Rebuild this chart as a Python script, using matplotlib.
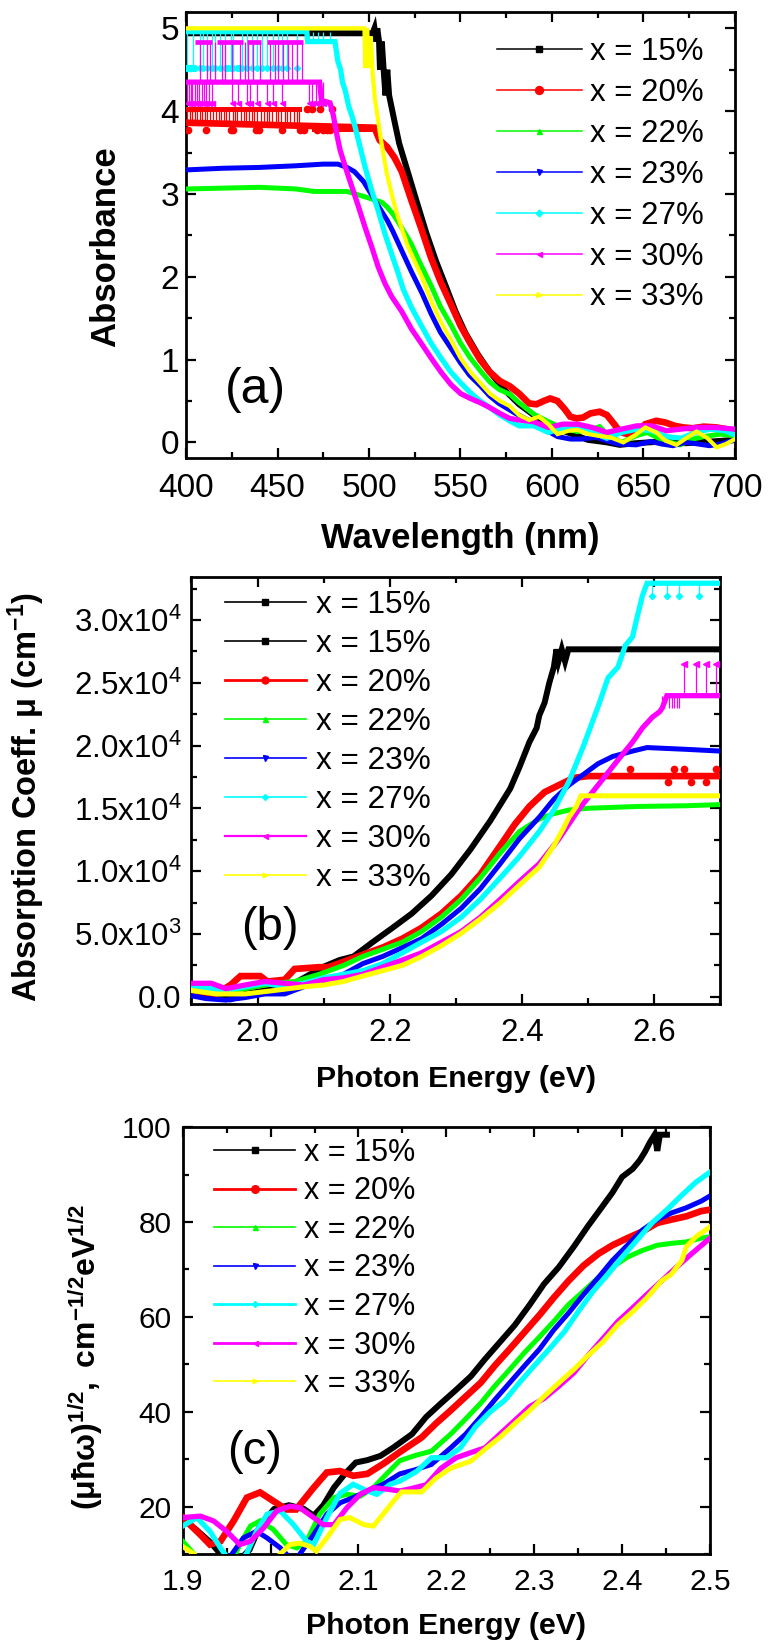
import matplotlib
matplotlib.use("Agg")
import matplotlib.pyplot as plt
from matplotlib.lines import Line2D
from matplotlib.ticker import MultipleLocator, FixedLocator, FixedFormatter

plt.rcParams.update({
    "font.family": ["Liberation Sans", "DejaVu Sans"],
    "mathtext.fontset": "custom",
    "mathtext.rm": "Liberation Sans",
    "mathtext.it": "Liberation Sans:italic",
    "mathtext.bf": "Liberation Sans:bold",
})

labels = ["x = 15%", "x = 20%", "x = 22%", "x = 23%", "x = 27%", "x = 30%", "x = 33%"]
colors = ["black", "red", "#00ff00", "blue", "cyan", "magenta", "yellow"]
markers = ["s", "o", "^", "v", "D", "<", ">"]

# ---------------- (a) absorbance vs wavelength ----------------
wl_15 = [400, 502, 503, 504, 504.5, 505.5, 506, 507, 508, 509, 510, 511, 512.5, 514, 516.5,
         520.6, 525.9, 531.3, 536.6, 542, 547.3, 552.7, 559.4, 566, 574, 582, 590, 598, 606,
         619.7, 630, 637, 646, 660, 673, 687, 700]
ab_15 = [4.94, 4.94, 5.0, 4.84, 5.0, 4.84, 4.5, 4.84, 4.5, 4.19, 4.5, 4.19, 4.03, 3.87, 3.61,
         3.31, 2.92, 2.53, 2.19, 1.885, 1.58, 1.32, 1.066, 0.85, 0.634, 0.46, 0.33, 0.22, 0.14,
         0.03, 0.0, -0.03, -0.01, 0.01, -0.01, 0.01, 0.03]

wl_20 = [400, 503, 505.8, 509.8, 513.9, 517.9, 523.2, 528.6, 533.9, 539.3, 544.7, 550, 555.4,
         560.7, 566, 571.5, 576.8, 582, 587.5, 591.5, 595.5, 599, 603, 607, 610, 613.5, 617, 621,
         626, 630, 634, 637, 641, 646, 651, 657, 662, 667, 672, 677, 683, 690, 695, 700]
ab_20 = [3.86, 3.8, 3.65, 3.57, 3.44, 3.27, 2.92, 2.58, 2.23, 1.93, 1.67, 1.41, 1.195,
         1.0, 0.85, 0.74, 0.68, 0.59, 0.47, 0.46, 0.5, 0.53, 0.5, 0.4, 0.31, 0.29, 0.3, 0.35,
         0.37, 0.33, 0.22, 0.13, 0.1, 0.12, 0.22, 0.26, 0.24, 0.2, 0.18, 0.17, 0.19, 0.18, 0.16, 0.12]

wl_22 = [400, 420, 440, 460, 470, 488, 494, 500, 504, 507, 510, 513, 516, 519, 523, 528, 534,
         539, 545, 550, 555, 561, 566, 571, 577, 582, 590, 598, 606, 614, 622, 626, 630, 638,
         646, 652, 660, 670, 677, 683, 692, 700]
ab_22 = [3.06, 3.07, 3.08, 3.06, 3.03, 3.03, 2.99, 2.95, 2.92, 2.9, 2.84, 2.76, 2.66, 2.55,
         2.4, 2.16, 1.89, 1.64, 1.41, 1.2, 1.03, 0.86, 0.73, 0.64, 0.58, 0.48, 0.34, 0.25, 0.17,
         0.13, 0.16, 0.19, 0.1, 0.0, 0.08, 0.12, 0.03, -0.03, 0.04, 0.07, 0.1, 0.08]

wl_23 = [400, 420, 440, 460, 475, 483, 488, 492, 497, 502, 506, 510, 513, 518, 523, 529, 534,
         539, 545, 550, 555, 561, 566, 571, 580, 587, 595, 603, 610, 616, 624, 630, 636, 646,
         654, 660, 666, 673, 680, 686, 692, 700]
ab_23 = [3.29, 3.31, 3.32, 3.34, 3.36, 3.36, 3.32, 3.27, 3.15, 2.97, 2.82, 2.68, 2.55, 2.31,
         2.07, 1.8, 1.55, 1.33, 1.13, 0.96, 0.81, 0.68, 0.56, 0.47, 0.35, 0.27, 0.17, 0.07, 0.04,
         0.04, 0.06, 0.02, -0.02, -0.03, 0.01, -0.02, -0.04, 0.0, -0.02, -0.04, -0.02, 0.03]

wl_27 = [400, 466, 466.5, 481.4, 483, 484.5, 485.5, 487, 489, 490.6, 492.4, 494.2, 497.8,
         501.5, 505, 508.7, 512.3, 516, 518.7, 523.2, 528.6, 533.9, 539.3, 544.7, 550, 555.4,
         560.7, 566, 571.5, 576.8, 582, 590, 598, 606, 614, 622, 630, 638, 646.5, 654.5, 662.5,
         670.6, 678.6, 686.6, 694.6, 700]
ab_27 = [4.96, 4.96, 4.84, 4.84, 4.6, 4.5, 4.35, 4.25, 4.05, 3.95, 3.81, 3.65, 3.33,
         3.04, 2.8, 2.52, 2.28, 2.04, 1.85, 1.63, 1.41, 1.2, 1.02, 0.85, 0.72, 0.6,
         0.5, 0.42, 0.33, 0.26, 0.2, 0.2, 0.12, 0.17, 0.2, 0.12, 0.05, 0.12, 0.16, 0.14, 0.07,
         0.05, 0.12, 0.16, 0.14, 0.09]

wl_30 = [400, 473, 474, 478.7, 480.5, 482.3, 484.2, 487, 490.6, 494.2, 497.8, 501.5, 505,
         508.7, 512.4, 517.9, 523.2, 528.6, 533.9, 539.3, 544.7, 550, 555.4, 560.7, 566, 571.5,
         576.8, 582, 590, 598, 606, 614, 622, 630, 638, 646.5, 654.5, 662.5, 670.6, 678.6, 689, 700]
ab_30 = [4.35, 4.35, 4.13, 4.1, 3.95, 3.73, 3.53, 3.33, 3.09, 2.85, 2.6, 2.36, 2.12,
         1.92, 1.76, 1.58, 1.37, 1.195, 1.02, 0.85, 0.7, 0.59, 0.53, 0.48, 0.42, 0.35,
         0.29, 0.27, 0.25, 0.18, 0.22, 0.22, 0.18, 0.12, 0.16, 0.2, 0.2, 0.14, 0.16, 0.18, 0.18, 0.16]

wl_33 = [400, 497.5, 498, 499, 500, 501, 502, 503.3, 504.2, 506, 507.8, 509.7, 512.4, 515.1,
         521, 528.6, 533.9, 539.3, 544.7, 550, 555.4, 560.7, 566, 571.5, 576.8, 582, 587.5,
         593, 598, 603, 609, 614, 620, 625, 632, 639, 645, 651, 657, 662, 668, 674, 679, 685,
         690, 695, 700]
ab_33 = [5.0, 5.0, 4.52, 5.0, 4.52, 4.9, 4.45, 4.13, 4.01, 3.73, 3.49, 3.25, 3.0, 2.77,
         2.38, 2.01, 1.71, 1.45, 1.24, 1.02, 0.85, 0.72, 0.59, 0.5, 0.44, 0.33, 0.27,
         0.31, 0.22, 0.1, 0.14, 0.15, 0.1, 0.08, 0.06, 0.0, 0.08, 0.18, 0.12, 0.02, -0.03, 0.06,
         0.13, 0.05, -0.06, -0.02, 0.04]

# saturated (noisy) part of the spectra: jump positions and levels
red_jumps = [400.5, 402, 403.5, 405, 406, 407.5, 409, 410.5, 411.5, 413, 415, 416.5, 418, 419,
             420.5, 422, 423.5, 425.5, 427, 428, 430, 431.5, 433, 434.5, 436, 437, 439, 441,
             442.5, 444, 445.5, 447, 449, 450.5, 452, 454, 455, 457, 459, 460.5, 462]
red_hi, red_lo = 4.03, 3.86
red_hi_end = 462
red_low_dots = [401, 411, 424.5, 425.5, 438.5, 440, 452.5, 462.5, 464.5, 471.5, 475, 477, 478.5]
red_low_dot_level = 3.77
red_hi_dots = [466, 469, 473, 480]
red_band = [470, 505]
red_band_level = 3.79

cyan_jumps = [400.7, 404, 407.7, 409.5, 411.7, 414, 415.8, 418.6, 421.3, 424.4, 425.9, 430.4,
              433.2, 435.9, 438.6, 441.4, 444.1, 447.7, 450.5, 452.3, 455, 460.5]
cyan_hi, cyan_lo = 4.96, 4.52
cyan_jumps2 = [466, 469.6, 472.3, 475, 478.7]
cyan_mid = 4.84
cyan_low_dots = [400, 401.5, 402.5, 403, 405, 422, 423, 428, 429]

mag_jumps = [407.7, 411.3, 413.1, 415.8, 419.5, 421.3, 425, 429.5, 432.2, 434, 436.8, 440.4,
             445.9, 448.6, 450.5, 453.2, 455.9, 457.8, 460.5, 463.2]
mag_hi, mag_lo, mag_bottom = 4.84, 4.35, 4.1
mag_hi_start = [405, 417, 433.5, 444]
mag_hi_end = [414, 431, 441, 464]
mag_band_jumps = [400.5, 401.5, 402.5, 403.5, 405, 406, 407, 408.5, 410, 411, 412.5, 414, 425,
                  428.6, 433.2, 435, 438.6, 444, 447.7, 452.3, 467, 469, 471, 473, 475]

# ---------------- (b) absorption coefficient ----------------
e_b15 = [1.9, 1.93, 1.959, 1.981, 2.011, 2.041, 2.07, 2.1, 2.124, 2.145, 2.174, 2.204, 2.233,
         2.263, 2.293, 2.322, 2.352, 2.382, 2.396, 2.411, 2.422, 2.426, 2.434, 2.441, 2.448,
         2.452, 2.455, 2.46, 2.465, 2.47, 2.7]
mu_15 = [230, 85, -200, 230, 510, 650, 1510, 2400, 2930, 3210, 4350, 5490, 6620, 8050, 9750,
         11740, 14020, 16570, 18280, 20270, 21400, 22400, 23400, 24960, 26240, 27660, 26700,
         27660, 26700, 27660, 27660]

e_b20 = [1.9, 1.937, 1.959, 1.974, 2.004, 2.015, 2.041, 2.056, 2.093, 2.107, 2.13, 2.159, 2.189,
         2.219, 2.248, 2.278, 2.308, 2.337, 2.367, 2.389, 2.411, 2.434, 2.456, 2.478, 2.5, 2.7]
mu_20 = [510, 230, 940, 1650, 1650, 1220, 1360, 2220, 2360, 2360, 2790, 3350, 3920, 4630, 5490,
         6620, 8050, 9750, 12030, 13730, 15150, 16290, 16860, 17430, 17570, 17570]
mu_20_spikes = [2.563, 2.63, 2.645, 2.693]
mu_20_spike_top = 18140
mu_20_dips = [2.62, 2.656, 2.678]
mu_20_dip_low = 17100

e_b22 = [1.9, 1.944, 1.981, 2.026, 2.056, 2.093, 2.13, 2.159, 2.189, 2.219, 2.248, 2.278, 2.308,
         2.337, 2.367, 2.396, 2.426, 2.448, 2.471, 2.5, 2.574, 2.648, 2.7]
mu_22 = [510, 230, 650, 1080, 1220, 1790, 2500, 3210, 3780, 4350, 5200, 6340, 7760, 9470, 11460,
         13160, 14160, 14580, 14870, 15010, 15150, 15210, 15300]

e_b23 = [1.9, 1.922, 1.952, 1.981, 2.011, 2.041, 2.07, 2.1, 2.13, 2.159, 2.189, 2.219, 2.248,
         2.278, 2.308, 2.337, 2.367, 2.396, 2.426, 2.448, 2.471, 2.493, 2.515, 2.537, 2.567,
         2.589, 2.648, 2.7]
mu_23 = [85, -140, -260, -60, 230, 230, 800, 1220, 1790, 2640, 3210, 3920, 4630, 5770, 7050,
         8610, 10600, 12590, 14300, 15720, 16860, 17710, 18560, 19130, 19560, 19840, 19700, 19560]

e_b27 = [1.9, 1.93, 1.952, 1.981, 2.011, 2.041, 2.07, 2.1, 2.13, 2.159, 2.189, 2.219, 2.248,
         2.278, 2.308, 2.337, 2.367, 2.396, 2.426, 2.448, 2.471, 2.493, 2.515, 2.53, 2.545,
         2.556, 2.567, 2.574, 2.582, 2.589, 2.7]
mu_27 = [800, 650, 510, 800, 1080, 800, 1080, 1510, 1790, 2080, 2640, 3500, 4350, 5200, 6340,
         7760, 9470, 11170, 13160, 14870, 17140, 19990, 23110, 25390, 26240, 27950, 28660,
         30220, 31930, 32920, 32920]
mu_27_dips = [2.597, 2.619, 2.637, 2.667]
mu_27_dip_low = 31930

e_b30 = [1.9, 1.93, 1.952, 1.981, 2.011, 2.041, 2.07, 2.1, 2.13, 2.159, 2.189, 2.219, 2.248,
         2.278, 2.308, 2.337, 2.367, 2.396, 2.426, 2.456, 2.485, 2.515, 2.545, 2.567, 2.582,
         2.597, 2.608, 2.612, 2.619, 2.7]
mu_30 = [1080, 1080, 650, 940, 1220, 1080, 940, 1360, 1510, 1790, 2360, 2930, 3500, 4350, 5200,
         6340, 7760, 9180, 10600, 12590, 14870, 16860, 18850, 20270, 21400, 22260, 22690,
         23000, 23970, 23970]
mu_30_spikes = [2.645, 2.663, 2.678, 2.693]
mu_30_spike_top = 26500
mu_30_band = [2.612, 2.615, 2.622, 2.626, 2.63, 2.634, 2.638]
mu_30_band_low = 23000

e_b33 = [1.9, 1.937, 1.981, 2.026, 2.07, 2.1, 2.13, 2.159, 2.189, 2.219, 2.248, 2.278, 2.308,
         2.337, 2.367, 2.396, 2.426, 2.448, 2.463, 2.471, 2.482, 2.489, 2.7]
mu_33 = [510, 230, 230, 510, 800, 940, 1220, 1650, 2080, 2500, 3210, 4070, 5060, 6200, 7480,
         8900, 10320, 12030, 13450, 14300, 15150, 16000, 16000]

b_ticks = [0, 5000, 10000, 15000, 20000, 25000, 30000]
b_ticklabels = ["0.0", r"5.0x10$^{3}$", r"1.0x10$^{4}$", r"1.5x10$^{4}$",
                r"2.0x10$^{4}$", r"2.5x10$^{4}$", r"3.0x10$^{4}$"]

# ---------------- (c) (mu h omega)^1/2 ----------------
e_c15 = [1.9, 1.915, 1.932, 1.943, 1.955, 1.976, 1.988, 2.004, 2.021, 2.038, 2.049, 2.06, 2.072,
         2.085, 2.097, 2.11, 2.125, 2.14, 2.161, 2.177, 2.194, 2.211, 2.228, 2.244, 2.261, 2.278,
         2.295, 2.311, 2.328, 2.345, 2.361, 2.378, 2.389, 2.4, 2.412, 2.42, 2.426, 2.431, 2.437,
         2.44, 2.443, 2.451]
c_15 = [17.4, 15.2, 12.4, 10, 7, 10.9, 16, 19.5, 20.3, 19.5, 18.1, 20.3, 24, 27, 29.3, 29.8,
        30.7, 32.5, 35.3, 38.9, 41.8, 44.6, 47.5, 51.1, 54.7, 58.3, 62.6, 66.9, 70.5, 74.8, 79.1,
        83.4, 86.2, 89.5, 91.2, 93, 94.8, 96.6, 98.4, 95, 98.4, 98.4]

e_c20 = [1.9, 1.92, 1.931, 1.943, 1.958, 1.973, 1.988, 2.003, 2.018, 2.029, 2.049, 2.064, 2.079,
         2.094, 2.11, 2.128, 2.147, 2.172, 2.188, 2.205, 2.222, 2.239, 2.255, 2.272, 2.289, 2.306,
         2.322, 2.339, 2.356, 2.373, 2.389, 2.406, 2.423, 2.44, 2.456, 2.473, 2.49, 2.5]
c_20 = [17.7, 14.1, 12, 12.7, 17, 21.9, 23, 21.2, 19.4, 19.4, 24, 27.2, 27.5, 26.5, 26.9, 29,
        31.5, 34.6, 37.5, 40.3, 43.2, 46.1, 49.7, 53.2, 56.8, 60.4, 64, 67.6, 70.8, 73.3, 75.1,
        76.6, 78, 79.8, 80.5, 81.2, 82.3, 82.6]

e_c22 = [1.9, 1.913, 1.925, 1.94, 1.955, 1.965, 1.977, 1.988, 2.003, 2.018, 2.03, 2.041, 2.056,
         2.072, 2.087, 2.102, 2.117, 2.132, 2.147, 2.165, 2.183, 2.205, 2.222, 2.239, 2.255,
         2.272, 2.289, 2.306, 2.322, 2.339, 2.356, 2.373, 2.389, 2.406, 2.423, 2.44, 2.456,
         2.473, 2.49, 2.5]
c_22 = [12.7, 10, 7, 6, 8, 12, 15.9, 17, 15.2, 12, 11.3, 12.7, 18.4, 21.9, 22.6, 22.2, 24, 26.9,
        29.7, 30.8, 31.7, 35.3, 38.5, 41.8, 45.4, 48.9, 52.5, 55.8, 59, 62.6, 65.4, 68.3, 70.5,
        72.6, 74, 75.1, 75.5, 75.8, 76.6, 76.9]

e_c23 = [1.9, 1.94, 1.956, 1.969, 1.984, 1.996, 2.011, 2.018, 2.026, 2.034, 2.049, 2.064, 2.079,
         2.094, 2.11, 2.128, 2.147, 2.165, 2.183, 2.205, 2.222, 2.239, 2.255, 2.272, 2.289,
         2.306, 2.322, 2.339, 2.356, 2.373, 2.389, 2.406, 2.423, 2.44, 2.456, 2.473, 2.49, 2.5]
c_23 = [7, 6, 10, 13.4, 14.8, 13.4, 11.3, 10, 8, 10.2, 14.1, 18.4, 20.8, 21.9, 23.3, 24.7, 26.9,
        27.8, 28.9, 32.4, 35.3, 38.9, 42.5, 46.1, 49.7, 53.2, 57.2, 60.8, 64.7, 68.3, 71.9,
        75.1, 78.3, 80.5, 81.9, 83, 84.4, 85.5]

e_c27 = [1.9, 1.916, 1.931, 1.943, 1.948, 1.96, 1.973, 1.984, 1.996, 2.011, 2.026, 2.041, 2.049,
         2.064, 2.079, 2.094, 2.11, 2.121, 2.136, 2.147, 2.166, 2.183, 2.2, 2.216, 2.233, 2.25,
         2.267, 2.283, 2.3, 2.317, 2.334, 2.35, 2.367, 2.384, 2.4, 2.417, 2.434, 2.451, 2.467,
         2.484, 2.5]
c_27 = [15.9, 17.7, 14.8, 11.3, 10, 7, 10.2, 14.8, 18.4, 19.1, 16.2, 12.7, 12, 17.7, 22.8, 24.7,
        23.3, 22.6, 24.7, 25.4, 27.4, 30.3, 30.3, 32.4, 36.8, 40, 42.5, 46.1, 49.7, 53.2, 56.8,
        61.1, 65.4, 69, 72.6, 76.2, 79.8, 82.6, 85.5, 88.4, 90.5]

e_c30 = [1.9, 1.92, 1.935, 1.95, 1.965, 1.977, 1.992, 2.007, 2.022, 2.033, 2.049, 2.06, 2.072,
         2.087, 2.102, 2.117, 2.132, 2.147, 2.16, 2.177, 2.194, 2.211, 2.228, 2.244, 2.261,
         2.278, 2.295, 2.311, 2.328, 2.345, 2.361, 2.378, 2.395, 2.412, 2.428, 2.445, 2.462,
         2.479, 2.5]
c_30 = [17.7, 18, 17, 14.8, 12, 12.7, 15.5, 19.1, 20.1, 19.8, 17.7, 16.2, 16.2, 19.8, 22.6, 24,
        23.7, 23.3, 23.8, 24.6, 28.1, 30.3, 31.4, 32.4, 35.3, 38.2, 41.1, 42.8, 45.4, 48.2, 51.8,
        55.4, 59, 61.9, 64.7, 67.6, 70.5, 73.3, 76.6]

e_c33 = [1.9, 1.913, 1.925, 2.0, 2.011, 2.022, 2.033, 2.045, 2.052, 2.064, 2.079, 2.09, 2.106,
         2.117, 2.128, 2.14, 2.149, 2.172, 2.188, 2.205, 2.228, 2.244, 2.261, 2.278, 2.295,
         2.311, 2.328, 2.345, 2.361, 2.378, 2.395, 2.412, 2.428, 2.445, 2.456, 2.468, 2.473,
         2.484, 2.495, 2.5]
c_33 = [11.6, 10, 7, 7, 10, 12, 12.3, 11.6, 10.6, 13.4, 17.3, 17.7, 16.2, 15.9, 18.4, 21.2, 23.1,
        23.1, 26, 28.1, 29.6, 32.1, 34.6, 37.5, 40.3, 43.2, 46.1, 48.9, 51.8, 54.7, 58.3, 61.1,
        64, 67.6, 69, 71.9, 74.8, 76.9, 78.3, 79]

curve_lw = [4.3, 4.8, 3.6, 3.6, 3.8, 3.8, 3.6]


def style_axes(ax, size, xpad, ypad):
    for sp in ax.spines.values():
        sp.set_linewidth(2.0)
    ax.tick_params(which="both", direction="in", top=True, right=True, width=1.6,
                   labelsize=size)
    ax.tick_params(which="major", length=7.5)
    ax.tick_params(which="minor", length=4.5)
    ax.tick_params(axis="x", which="both", pad=xpad)
    ax.tick_params(axis="y", which="both", pad=ypad)


def legend_handles(lw, ms):
    return [Line2D([], [], color=c, lw=w, marker=m, ms=s)
            for c, m, w, s in zip(colors, markers, lw, ms)]


fig = plt.figure(figsize=(7.68, 16.44), dpi=100)

# ---- panel (a)
ax = fig.add_axes([0.2422, 0.7212, 0.7148, 0.2713])
xs = [wl_15, wl_20, wl_22, wl_23, wl_27, wl_30, wl_33]
ys = [ab_15, ab_20, ab_22, ab_23, ab_27, ab_30, ab_33]
for i, (x, y) in enumerate(zip(xs, ys)):
    lw = curve_lw[i]
    if i == 6:
        lw = 3.0
    ax.plot(x, y, color=colors[i], lw=lw, solid_joinstyle="miter", zorder=2 + i)
    if i == 1:
        ax.vlines(red_jumps, red_lo, red_hi, color="red", lw=0.9, zorder=3)
        ax.plot([400, red_hi_end], [red_hi, red_hi], color="red", lw=3.6, zorder=3)
        ax.plot(red_low_dots, [red_low_dot_level] * len(red_low_dots), ls="none",
                marker="o", ms=4.5, color="red", zorder=3)
        ax.plot(red_hi_dots, [red_hi] * len(red_hi_dots), ls="none", marker="o",
                ms=4.5, color="red", zorder=3)
        ax.plot(red_band, [red_band_level] * 2, color="red", lw=3.6, zorder=3)
    if i == 4:
        ax.vlines(cyan_jumps, cyan_lo, cyan_hi, color="cyan", lw=0.9, zorder=6)
        ax.vlines(cyan_jumps2, cyan_mid, cyan_hi, color="cyan", lw=0.9, zorder=6)
        ax.plot(cyan_jumps + cyan_low_dots, [cyan_lo] * (len(cyan_jumps) + len(cyan_low_dots)),
                ls="none", marker="D", ms=3.2, color="cyan", zorder=6)
    if i == 5:
        ax.vlines(mag_jumps, mag_lo, mag_hi, color="magenta", lw=0.9, zorder=7)
        ax.hlines([mag_hi] * len(mag_hi_start), mag_hi_start, mag_hi_end, color="magenta",
                  lw=3.4, zorder=7)
        ax.vlines(mag_band_jumps, mag_bottom, mag_lo, color="magenta", lw=0.9, zorder=7)
        ax.plot(mag_band_jumps, [mag_bottom] * len(mag_band_jumps), ls="none", marker="<",
                ms=3.6, color="magenta", zorder=7)
ax.set_xlim(400, 700)
ax.set_ylim(-0.193, 5.193)
ax.xaxis.set_major_locator(MultipleLocator(50))
ax.xaxis.set_minor_locator(MultipleLocator(25))
ax.yaxis.set_major_locator(MultipleLocator(1))
ax.yaxis.set_minor_locator(MultipleLocator(0.5))
style_axes(ax, 24, 10.4, 5)
ax.set_xlabel("Wavelength (nm)", fontsize=25, fontweight="bold")
ax.set_ylabel("Absorbance", fontsize=25, fontweight="bold")
ax.xaxis.set_label_coords(0.5, -0.143)
ax.yaxis.set_label_coords(-0.117, 0.474)
ax.text(0.126, 0.153, "(a)", transform=ax.transAxes, fontsize=36, ha="center", va="center")
ax.legend(legend_handles([1.1] * 7, [4.3, 5.7, 3.6, 3.6, 3.4, 3.6, 3.6]), labels,
          loc="upper left", bbox_to_anchor=(0.5665, 0.945), frameon=False, borderpad=0,
          borderaxespad=0, handlelength=2.72, handletextpad=0.26, labelspacing=0.35,
          fontsize=22.5)

# ---- panel (b)
ax = fig.add_axes([0.2493, 0.3893, 0.6888, 0.2596])
xs = [e_b15, e_b20, e_b22, e_b23, e_b27, e_b30, e_b33]
ys = [mu_15, mu_20, mu_22, mu_23, mu_27, mu_30, mu_33]
for i, (x, y) in enumerate(zip(xs, ys)):
    ax.plot(x, y, color=colors[i], lw=curve_lw[i], solid_joinstyle="miter", zorder=2 + i)
ax.vlines(mu_20_spikes, mu_20[-1], mu_20_spike_top, color="red", lw=0.9, zorder=3)
ax.plot(mu_20_spikes, [mu_20_spike_top] * len(mu_20_spikes), ls="none", marker="o", ms=4.5,
        color="red", zorder=3)
ax.vlines(mu_20_dips, mu_20_dip_low, mu_20[-1], color="red", lw=0.9, zorder=3)
ax.plot(mu_20_dips, [mu_20_dip_low] * len(mu_20_dips), ls="none", marker="o", ms=4.5,
        color="red", zorder=3)
ax.vlines(mu_27_dips, mu_27_dip_low, mu_27[-1], color="cyan", lw=0.9, zorder=6)
ax.plot(mu_27_dips, [mu_27_dip_low] * len(mu_27_dips), ls="none", marker="D", ms=3.2,
        color="cyan", zorder=6)
ax.vlines(mu_30_spikes, mu_30[-1], mu_30_spike_top, color="magenta", lw=0.9, zorder=7)
ax.plot(mu_30_spikes, [mu_30_spike_top] * len(mu_30_spikes), ls="none", marker="<", ms=4,
        color="magenta", zorder=7)
ax.vlines(mu_30_band, mu_30_band_low, mu_30[-1], color="magenta", lw=0.9, zorder=7)
ax.set_xlim(1.9, 2.7)
ax.set_ylim(-570, 33400)
ax.xaxis.set_major_locator(MultipleLocator(0.2))
ax.xaxis.set_minor_locator(MultipleLocator(0.1))
ax.yaxis.set_major_locator(FixedLocator(b_ticks))
ax.yaxis.set_major_formatter(FixedFormatter(b_ticklabels))
ax.yaxis.set_minor_locator(MultipleLocator(2500))
style_axes(ax, 22.5, 10, 7)
ax.set_xlabel("Photon Energy (eV)", fontsize=21.8, fontweight="bold")
ax.set_ylabel(r"Absorption Coeff. μ (cm$^{\mathbf{-1}}$)", fontsize=23.5, fontweight="bold")
ax.xaxis.set_label_coords(0.5, -0.143)
ax.yaxis.set_label_coords(-0.274, 0.484)
ax.text(0.148, 0.179, "(b)", transform=ax.transAxes, fontsize=34, ha="center", va="center")
b_labels = [labels[0]] + labels
b_handles = legend_handles([1.2, 2.0, 1.2, 1.2, 1.2, 1.6, 1.2], [5, 5, 3.6, 3.6, 3.0, 3.6, 3.4])
ax.legend([b_handles[0]] + b_handles, b_labels, loc="upper left",
          bbox_to_anchor=(0.0633, 0.969), frameon=False, borderpad=0, borderaxespad=0,
          handlelength=2.57, handletextpad=0.31, labelspacing=0.285, fontsize=22.7)

# ---- panel (c)
ax = fig.add_axes([0.2379, 0.0547, 0.6866, 0.2597])
xs = [e_c15, e_c20, e_c22, e_c23, e_c27, e_c30, e_c33]
ys = [c_15, c_20, c_22, c_23, c_27, c_30, c_33]
for i, (x, y) in enumerate(zip(xs, ys)):
    ax.plot(x, y, color=colors[i], lw=curve_lw[i], solid_joinstyle="miter", zorder=2 + i)
ax.set_xlim(1.9, 2.5)
ax.set_ylim(10, 100)
ax.xaxis.set_major_locator(MultipleLocator(0.1))
ax.xaxis.set_minor_locator(MultipleLocator(0.05))
ax.yaxis.set_major_locator(MultipleLocator(20))
ax.yaxis.set_minor_locator(MultipleLocator(10))
style_axes(ax, 21.5, 10, 8)
ax.set_xlabel("Photon Energy (eV)", fontsize=21.8, fontweight="bold")
ax.set_ylabel(r"$\mathbf{(\mu\hbar\omega)^{1/2},\ cm^{-1/2}eV^{1/2}}$", fontsize=23)
ax.xaxis.set_label_coords(0.5, -0.1365)
ax.yaxis.set_label_coords(-0.1466, 0.461)
ax.text(0.137, 0.238, "(c)", transform=ax.transAxes, fontsize=34, ha="center", va="center")
ax.legend(legend_handles([1.2, 2.0, 1.2, 1.2, 2.0, 2.0, 1.2], [4.3, 5.5, 3.6, 3.6, 3.0, 3.6, 3.4]),
          labels, loc="upper left", bbox_to_anchor=(0.0594, 0.975), frameon=False,
          borderpad=0, borderaxespad=0, handlelength=2.65, handletextpad=0.29,
          labelspacing=0.28, fontsize=22)

fig.savefig("out.png", dpi=100)
